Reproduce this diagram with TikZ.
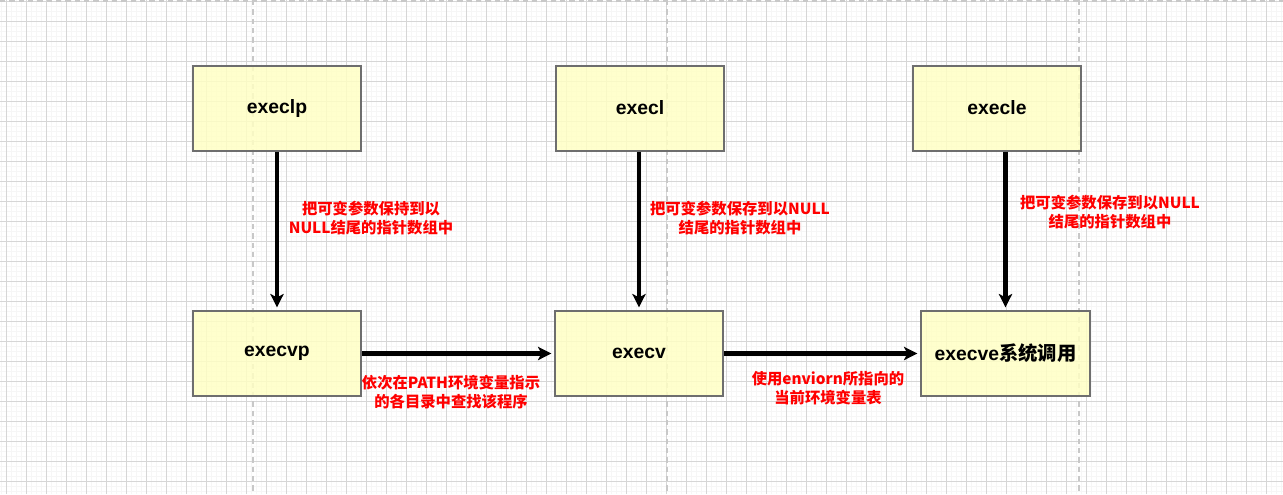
\documentclass[tikz,border=0pt]{standalone}
\usepackage{fontspec}
\setmainfont{Liberation Sans}
\newfontfamily\cjk{Noto Sans CJK SC}
\usetikzlibrary{arrows.meta}

\definecolor{boxyellow}{RGB}{255,255,196}
\definecolor{boxline}{RGB}{110,110,110}
\definecolor{gridminor}{RGB}{246,246,246}
\definecolor{gridmajor}{RGB}{214,214,214}
\definecolor{gridpage}{RGB}{200,200,200}

\begin{document}
\begin{tikzpicture}[x=0.75pt, y=-0.75pt,
    func/.style={rectangle, draw=boxline, line width=1.5pt, fill=boxyellow,
        fill opacity=0.85, text opacity=1, minimum width=126pt,
        minimum height=63.75pt, inner sep=0pt,
        font=\fontsize{14.5}{17}\selectfont\bfseries},
    note/.style={text=red, align=center,
        font=\cjk\bfseries\fontsize{11.5}{14}\selectfont},
    call/.style={line width=3.2pt, -{Stealth[length=10pt, width=10pt, inset=2.5pt]},
        shorten >=2pt}]

    % background grid
    \useasboundingbox (0,0) rectangle (1283,494);
    \clip (0,0) rectangle (1283,494);
    \foreach \gx in {1.7,6.7,...,1283} \draw[gridminor, line width=0.5pt] (\gx,0) -- (\gx,494);
    \foreach \gy in {1.7,6.7,...,494} \draw[gridminor, line width=0.5pt] (0,\gy) -- (1283,\gy);
    \foreach \gx in {6.7,26.7,...,1283} \draw[gridmajor, line width=0.75pt] (\gx,0) -- (\gx,494);
    \foreach \gy in {1.7,21.7,...,494} \draw[gridmajor, line width=0.75pt] (0,\gy) -- (1283,\gy);
    \foreach \gx in {253,667,1079} \draw[gridpage, line width=1pt, dash pattern=on 4pt off 3pt] (\gx,0) -- (\gx,494);
    \draw[gridpage, line width=1pt, dash pattern=on 4pt off 3pt] (0,1) -- (1283,1);

    \node[func] (execlp) at (277,108) {execlp};
    \node[func] (execl) at (640,108) {execl};
    \node[func] (execle) at (997,108) {execle};
    \node[func] (execvp) at (277,353.5) {execvp};
    \node[func] (execv) at (639,353.5) {execv};
    \node[func, minimum width=126.75pt] (execve) at (1005.5,353.5) {execve{\cjk 系统调用}};

    \draw[call] (execlp) -- (execvp);
    \draw[call] (execl.south -| execv.north) -- (execv.north);
    \draw[call] (execle.south -| execve.north) -- (execve.north);
    \draw[call] (execvp) -- (execv);
    \draw[call] (execv) -- (execve);

    \node[note] (noteA) at (371,218) {把可变参数保持到以\\NULL结尾的指针数组中};
    \node[note] (noteB) at (740,218) {把可变参数保存到以NULL\\结尾的指针数组中};
    \node[note] (noteC) at (1110,212) {把可变参数保存到以NULL\\结尾的指针数组中};
    \node[note] (noteD) at (451,392) {依次在PATH环境变量指示\\的各目录中查找该程序};
    \node[note] (noteE) at (828,388) {使用enviorn所指向的\\当前环境变量表};

\end{tikzpicture}
\end{document}
